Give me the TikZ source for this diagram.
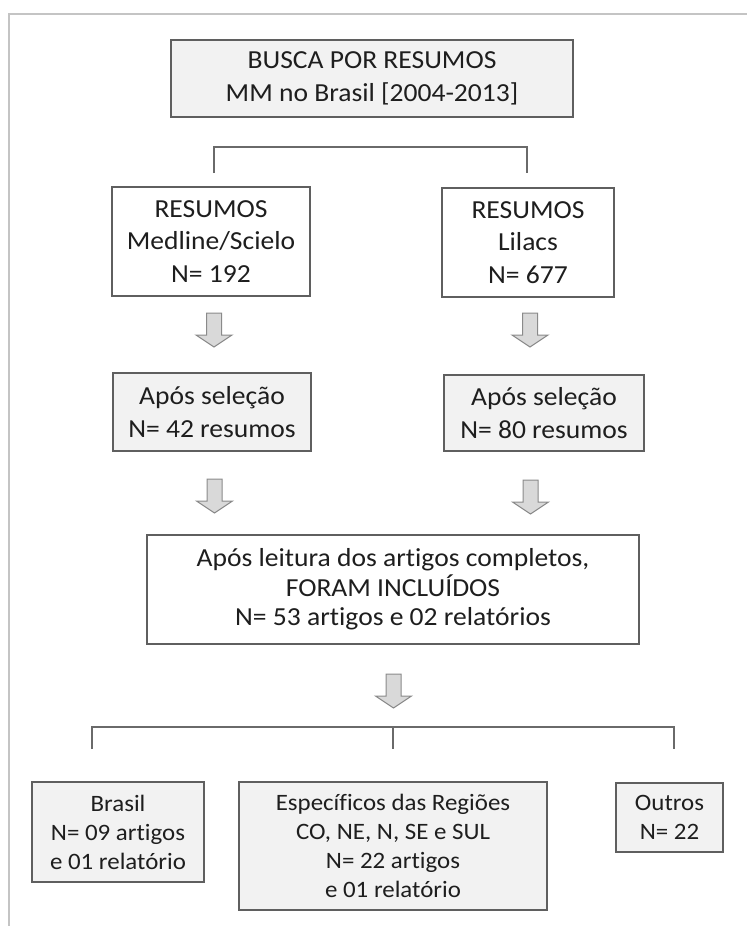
\documentclass[tikz,border=0pt]{standalone}
\usepackage{fontspec}
\setmainfont{Carlito}[FakeStretch=1.06, Ligatures={NoCommon}]
\definecolor{boxline}{HTML}{5F5F5F}
\definecolor{boxfill}{HTML}{F2F2F2}
\definecolor{arrfill}{HTML}{D9D9D9}
\definecolor{arrline}{HTML}{8A8A8A}
\definecolor{frameline}{HTML}{C4C4C4}
\definecolor{connline}{HTML}{6A6A6A}
\definecolor{txt}{HTML}{1E1E1E}
\begin{document}
\begin{tikzpicture}[x=1pt,y=-1pt,
  box/.style={draw=boxline, line width=1.3pt, align=center, inner sep=0pt,
    text=txt, font=\fontsize{26}{32.5}\selectfont},
  greybox/.style={box, fill=boxfill},
  whitebox/.style={box, fill=white},
  smalltext/.style={font=\fontsize{23.5}{29}\selectfont},
  midtext/.style={font=\fontsize{26}{29.5}\selectfont},
  conn/.style={draw=connline, line width=1.3pt},
  downarr/.pic={\draw[fill=arrfill, draw=arrline, line width=1pt]
      (-7.5,0) -- (-7.5,22) -- (-18,22) -- (0,34) -- (18,22) -- (7.5,22) -- (7.5,0) -- cycle;}
]
\useasboundingbox (0,0) rectangle (747,926);
% outer frame
\coordinate (fbl) at (9,926);
\coordinate (ftl) at (9,14);
\coordinate (ftr) at (747,14);
\draw[frameline, line width=2pt] (fbl) -- (ftl) -- (ftr);

% boxes
\node[greybox, minimum width=402pt, minimum height=77pt] (busca) at (372,78.5)
  {BUSCA POR RESUMOS\\MM no Brasil [2004-2013]};
\node[whitebox, minimum width=198pt, minimum height=109pt] (med) at (211,241.5)
  {RESUMOS\\Medline/Scielo\\N= 192};
\node[whitebox, minimum width=172pt, minimum height=109pt] (lil) at (528,242.5)
  {RESUMOS\\Lilacs\\N= 677};
\node[greybox, minimum width=198pt, minimum height=78pt] (sel1) at (212,412)
  {Após seleção\\N= 42 resumos};
\node[greybox, minimum width=200pt, minimum height=76pt] (sel2) at (544,413)
  {Após seleção\\N= 80 resumos};
\node[whitebox, midtext, minimum width=492pt, minimum height=109pt] (incl) at (393,589.5)
  {Após leitura dos artigos completos,\\FORAM INCLUÍDOS\\N= 53 artigos e 02 relatórios};
\node[greybox, smalltext, minimum width=172pt, minimum height=100pt] (bra) at (118,832)
  {Brasil\\N= 09 artigos\\e 01 relatório};
\node[greybox, smalltext, minimum width=308pt, minimum height=128pt] (reg) at (393,846)
  {Específicos das Regiões\\CO, NE, N, SE e SUL\\N= 22 artigos\\e 01 relatório};
\node[greybox, smalltext, minimum width=107pt, minimum height=69pt] (out) at (669.5,817.5)
  {Outros\\N= 22};

% top bracket
\coordinate (t1) at (214,173);
\coordinate (t2) at (214,147);
\coordinate (t3) at (527,147);
\coordinate (t4) at (527,173);
\draw[conn] (t1) -- (t2) -- (t3) -- (t4);

% bottom bracket
\coordinate (b1) at (92,749);
\coordinate (b2) at (92,727);
\coordinate (b3) at (674,727);
\coordinate (b4) at (674,749);
\coordinate (bm) at (393,727);
\coordinate (bm2) at (393,749);
\draw[conn] (b1) -- (b2) -- (b3) -- (b4);
\draw[conn] (bm) -- (bm2);

% block arrows
\pic at (214,313) {downarr};
\pic at (530,313) {downarr};
\pic at (214.5,479) {downarr};
\pic at (530.5,480) {downarr};
\pic at (393.5,674) {downarr};
\end{tikzpicture}
\end{document}
